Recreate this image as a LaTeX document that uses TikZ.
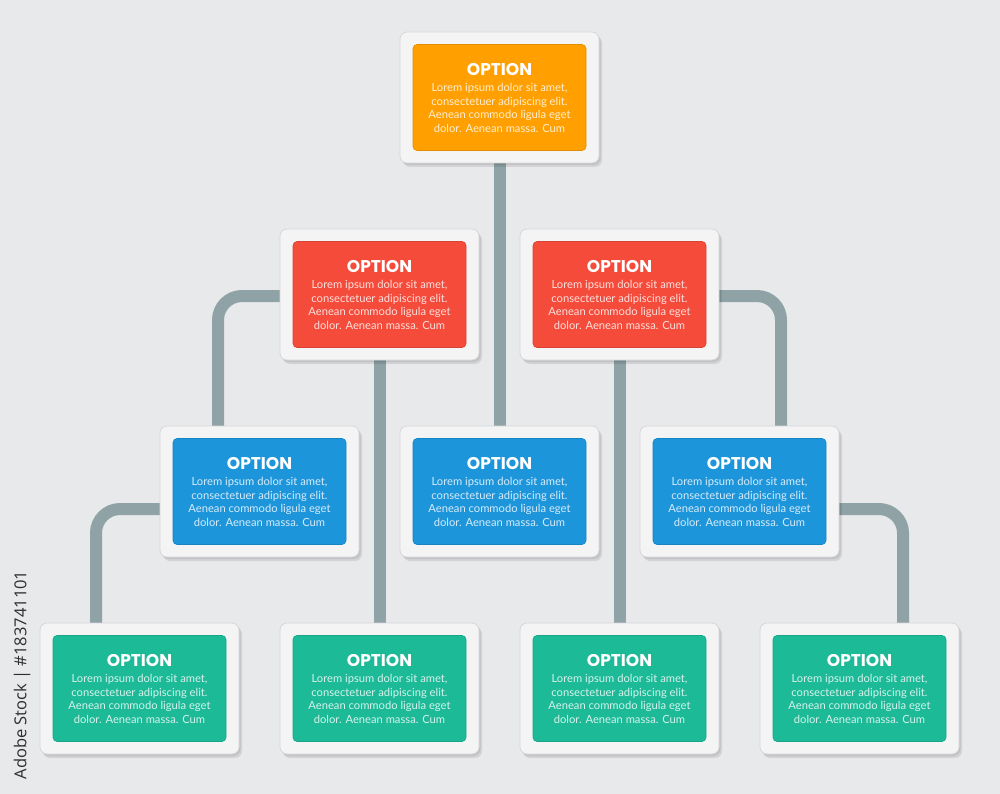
\documentclass[tikz,border=0pt]{standalone}
\usepackage{fontspec}
\setmainfont{Lato}
\newfontfamily\optfont{Poppins}
\newfontfamily\wmfont{Open Sans}
\usetikzlibrary{shadows,calc}
\definecolor{bg}{HTML}{E8E9EB}
\definecolor{framefill}{HTML}{F4F4F5}
\definecolor{frameline}{HTML}{D6D7D9}
\definecolor{linkc}{HTML}{8FA3A6}
\definecolor{corange}{HTML}{FFA000}
\definecolor{cred}{HTML}{F54B3B}
\definecolor{cblue}{HTML}{1D95DB}
\definecolor{cteal}{HTML}{1CBA97}
\newcommand\ortext{{\optfont\bfseries\fontsize{17}{17}\selectfont\color{white}OPTION}\\[3.4pt]Lorem ipsum dolor sit amet,\\consectetuer adipiscing elit.\\Aenean commodo ligula eget\\dolor. Aenean massa. Cum}
\begin{document}
\begin{tikzpicture}[x=1pt,y=-1pt,
  frame/.style={rectangle, rounded corners=7pt, minimum width=199pt, minimum height=131pt,
    fill=framefill, draw=frameline, line width=0.8pt,
    drop shadow={shadow xshift=3pt, shadow yshift=-4pt, opacity=0.09, fill=black},
    drop shadow={shadow xshift=1.5pt, shadow yshift=-2pt, opacity=0.08, fill=black}},
  panel/.style={rectangle, rounded corners=4pt, minimum width=173pt, minimum height=106pt,
    fill=#1, draw=#1!88!black, line width=0.6pt, text=white!82!#1, align=center, inner sep=0pt,
    font=\fontsize{11.2}{13.4}\selectfont},
  link/.style={draw=linkc, line width=12pt, rounded corners=24pt},
  wm/.style={font=\wmfont\fontsize{16.5}{16.5}\selectfont, text=black!82, rotate=90}]
\fill[bg] (0,0) rectangle (1000,794);
\useasboundingbox (0,0) rectangle (1000,794);

% frame positions
\coordinate (pT) at (499.5,97.5);
\coordinate (pR1) at (379.5,294.5);
\coordinate (pR2) at (619.5,294.5);
\coordinate (pC1) at (259.5,491.5);
\coordinate (pC2) at (499.5,491.5);
\coordinate (pC3) at (739.5,491.5);
\coordinate (pD1) at (139.5,688.5);
\coordinate (pD2) at (379.5,688.5);
\coordinate (pD3) at (619.5,688.5);
\coordinate (pD4) at (859.5,688.5);

% invisible frame anchors for connectors
\foreach \n in {T,R1,R2,C1,C2,C3,D1,D2,D3,D4}
  \node[rectangle, minimum width=199pt, minimum height=131pt, inner sep=0pt] (f\n) at (p\n) {};

% connectors
\draw[link] (fT.south) -- (fC2.north);
\draw[link] ([yshift=-1.5pt]fR1.west) -| ([xshift=-41.5pt]fC1.north);
\draw[link] (fR1.south) -- (fD2.north);
\draw[link] ([yshift=-1.5pt]fR2.east) -| ([xshift=41.5pt]fC3.north);
\draw[link] (fR2.south) -- (fD3.north);
\draw[link] ([yshift=-17.5pt]fC1.west) -| ([xshift=-43.5pt]fD1.north);
\draw[link] ([yshift=-17.5pt]fC3.east) -| ([xshift=43.5pt]fD4.north);

% boxes
\foreach \n/\c in {T/corange,R1/cred,R2/cred,C1/cblue,C2/cblue,C3/cblue,D1/cteal,D2/cteal,D3/cteal,D4/cteal}{
  \node[frame] (box\n) at (p\n) {};
  \node[panel=\c] (txt\n) at (p\n) {\ortext};
}

\node[wm] (stock) at (22,675) {Adobe Stock | \#183741101};
\end{tikzpicture}
\end{document}
